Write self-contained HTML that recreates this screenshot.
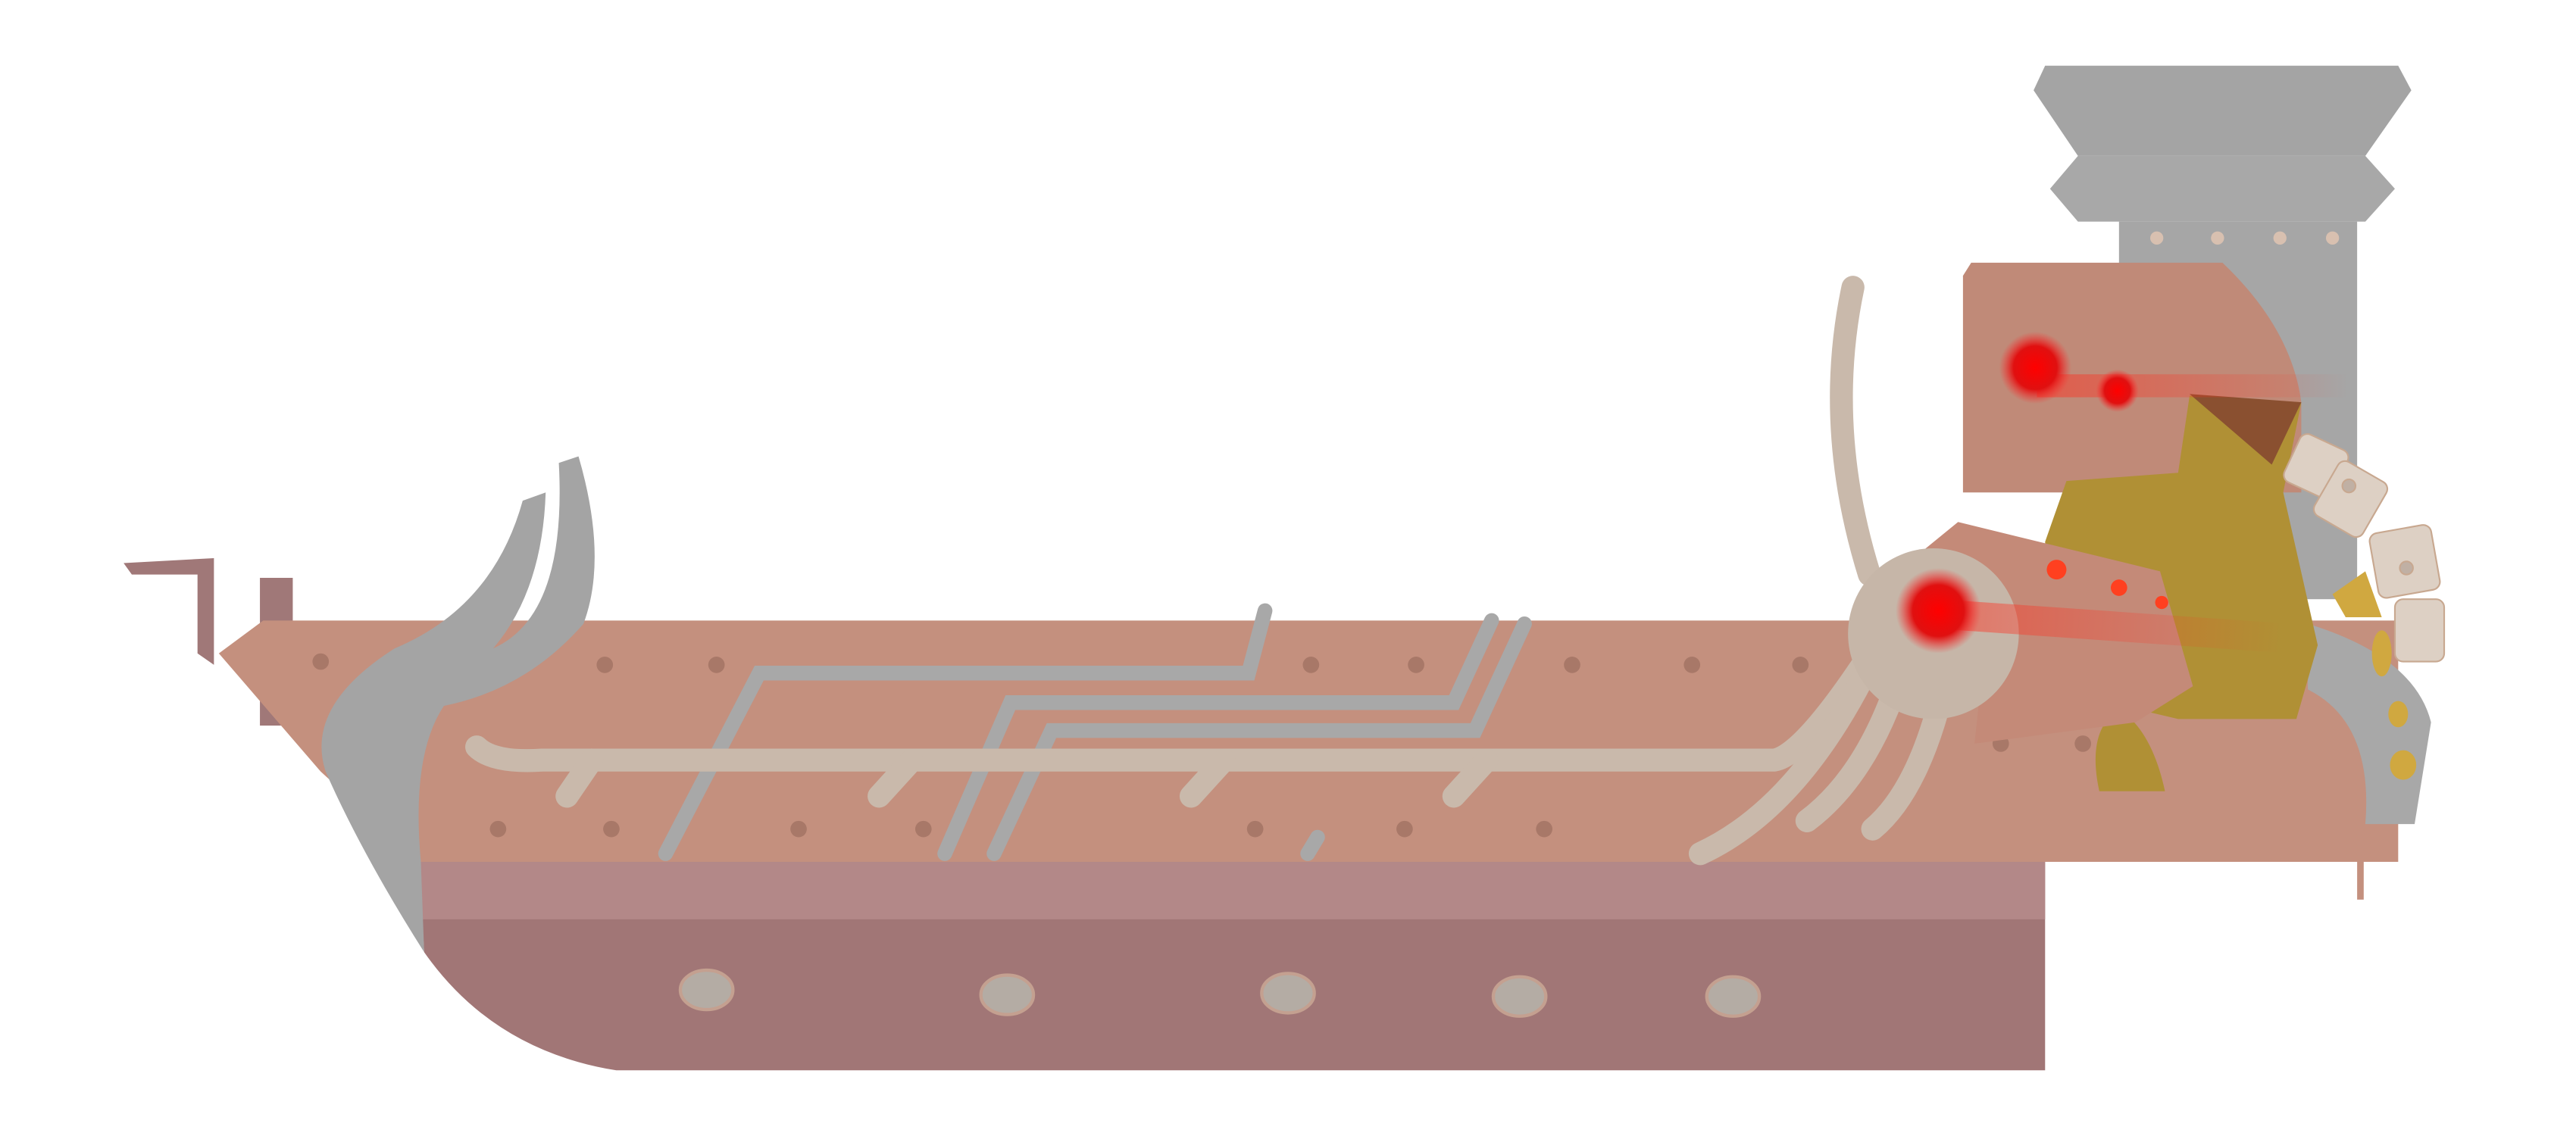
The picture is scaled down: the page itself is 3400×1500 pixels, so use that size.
<!DOCTYPE html>
<html><head><meta charset="utf-8"><style>html,body{margin:0;padding:0;background:#fff}svg{display:block}</style></head>
<body>
<svg width="3400" height="1500" viewBox="0 0 1568 692" xmlns="http://www.w3.org/2000/svg">
<defs>
<radialGradient id="glow"><stop offset="0" stop-color="#ff0000"/><stop offset="0.6" stop-color="#e01010"/><stop offset="1" stop-color="#ff3030" stop-opacity="0"/></radialGradient>
<linearGradient id="beam" x1="0" x2="1"><stop offset="0" stop-color="#ff3020" stop-opacity="0.5"/><stop offset="1" stop-color="#ff3020" stop-opacity="0"/></linearGradient>
</defs>
<!-- chimney -->
<g>
<polygon points="1245,40 1460,40 1468,55 1440,95 1265,95 1238,55" fill="#a4a4a4"/>
<polygon points="1265,95 1440,95 1458,115 1440,135 1265,135 1248,115" fill="#a8a8a8"/>
<rect x="1290" y="135" width="145" height="230" fill="#a6a6a6"/>
<g fill="#d8c0b0"><circle cx="1313" cy="145" r="4"/><circle cx="1350" cy="145" r="4"/><circle cx="1388" cy="145" r="4"/><circle cx="1420" cy="145" r="4"/></g>
</g>
<!-- left marks -->
<g fill="#a07878">
<polygon points="75,343 130,340 130,405 120,398 120,350 80,350"/>
<rect x="158" y="352" width="20" height="90"/>
</g>
<!-- lower hull -->
<path d="M255,525 L1245,525 L1245,652 L375,652 Q300,640 258,580 Z" fill="#a17676"/>
<rect x="255" y="525" width="990" height="35" fill="#b38888"/>
<!-- deck -->
<path d="M160,378 L1460,378 L1460,525 L255,525 L195,470 L133,398 Z" fill="#c4907e"/>
<rect x="1435" y="500" width="4" height="48" fill="#c4907e"/>
<g fill="#a87868">
<circle cx="195" cy="403" r="5"/><circle cx="368" cy="405" r="5"/><circle cx="436" cy="405" r="5"/><circle cx="798" cy="405" r="5"/><circle cx="862" cy="405" r="5"/><circle cx="957" cy="405" r="5"/><circle cx="1030" cy="405" r="5"/><circle cx="1096" cy="405" r="5"/>
<circle cx="303" cy="505" r="5"/><circle cx="372" cy="505" r="5"/><circle cx="486" cy="505" r="5"/><circle cx="562" cy="505" r="5"/><circle cx="764" cy="505" r="5"/><circle cx="855" cy="505" r="5"/><circle cx="940" cy="505" r="5"/><circle cx="1218" cy="453" r="5"/><circle cx="1268" cy="453" r="5"/>
</g>
<!-- portholes -->
<g fill="#b4aca4" stroke="#c4a090" stroke-width="2">
<ellipse cx="430" cy="603" rx="16" ry="12"/><ellipse cx="613" cy="606" rx="16" ry="12"/><ellipse cx="784" cy="605" rx="16" ry="12"/><ellipse cx="925" cy="607" rx="16" ry="12"/><ellipse cx="1055" cy="607" rx="16" ry="12"/>
</g>
<!-- gray pipes -->
<g fill="none" stroke="#a8a8a8" stroke-width="9" stroke-linecap="round">
<path d="M405,520 L462,410 L760,410 L770,372"/>
<path d="M575,520 L615,428 L885,428 L908,378"/>
<path d="M605,520 L640,445 L898,445 L928,380"/>
<path d="M796,520 L802,510"/>
</g>
<!-- horn -->
<path d="M258,580 Q220,520 198,470 Q185,430 240,395 Q300,370 318,305 L332,300 Q330,360 300,395 Q345,375 340,282 L352,278 Q370,340 355,380 Q320,420 270,430 Q250,460 256,525 Z" fill="#a4a4a4"/>
<!-- spine gray arc -->
<path d="M1405,380 Q1470,400 1480,440 L1470,502 L1440,502 Q1445,440 1405,420 Z" fill="#a8a8a8"/>
<!-- cabin -->
<path d="M1200,160 L1353,160 Q1395,200 1401,245 L1401,300 L1195,300 L1195,168 Z" fill="#c08a78"/>
<!-- gold -->
<g fill="#b09035">
<polygon points="1258,293 1326,288 1333,241 1401,245 1390,300 1411,393 1398,438 1326,438 1250,420 1245,330"/>
<polygon points="1333,240 1401,245 1383,283" fill="#8a5030"/>
<path d="M1278,482 Q1270,445 1290,432 Q1310,445 1318,482 Z"/>
<polygon points="1420,362 1440,348 1450,376 1428,376" fill="#d0a840"/>
<ellipse cx="1450" cy="398" rx="6" ry="14" fill="#d0a840"/>
<ellipse cx="1460" cy="435" rx="6" ry="8" fill="#d0a840"/><ellipse cx="1463" cy="466" rx="8" ry="9" fill="#d0a840"/>
</g>
<polygon points="1165,340 1192,318 1315,348 1335,418 1300,440 1202,453 1210,380" fill="#c48a78"/>
<!-- beige pipes -->
<g fill="none" stroke="#c9b9ab" stroke-width="14" stroke-linecap="round">
<path d="M290,455 Q300,465 330,463 L1080,463 Q1100,460 1150,380"/>
<path d="M360,463 L345,485"/><path d="M555,463 L535,485"/><path d="M745,463 L725,485"/><path d="M905,463 L885,485"/>
<path d="M1145,390 Q1100,490 1035,520"/>
<path d="M1160,400 Q1140,470 1100,500"/>
<path d="M1185,410 Q1170,480 1140,505"/>
<path d="M1138,350 Q1110,260 1128,175"/>
</g>
<circle cx="1177" cy="386" r="52" fill="#c6b6a8"/>
<!-- spine segments -->
<g fill="#ddd0c4" stroke="#c8a890">
<rect x="1394" y="268" width="32" height="32" rx="5" transform="rotate(25 1410 284)"/>
<rect x="1414" y="285" width="34" height="38" rx="5" transform="rotate(30 1431 304)"/>
<rect x="1445" y="322" width="38" height="40" rx="5" transform="rotate(-10 1464 342)"/>
<rect x="1458" y="365" width="30" height="38" rx="5"/>
<g fill="#c0b0a4"><circle cx="1430" cy="296" r="4"/><circle cx="1465" cy="346" r="4"/></g>
</g>
<!-- eyes -->
<g>
<rect x="1240" y="228" width="190" height="14" fill="url(#beam)"/>
<rect x="1180" y="365" width="210" height="18" fill="url(#beam)" transform="rotate(4 1180 374)"/>
<circle cx="1239" cy="224" r="22" fill="url(#glow)"/>
<circle cx="1289" cy="238" r="13" fill="url(#glow)"/>
<circle cx="1180" cy="372" r="26" fill="url(#glow)"/>
<circle cx="1252" cy="347" r="6" fill="#ff4020"/><circle cx="1290" cy="358" r="5" fill="#ff4020"/><circle cx="1316" cy="367" r="4" fill="#ff4020"/>
</g>
</svg>
</body></html>
